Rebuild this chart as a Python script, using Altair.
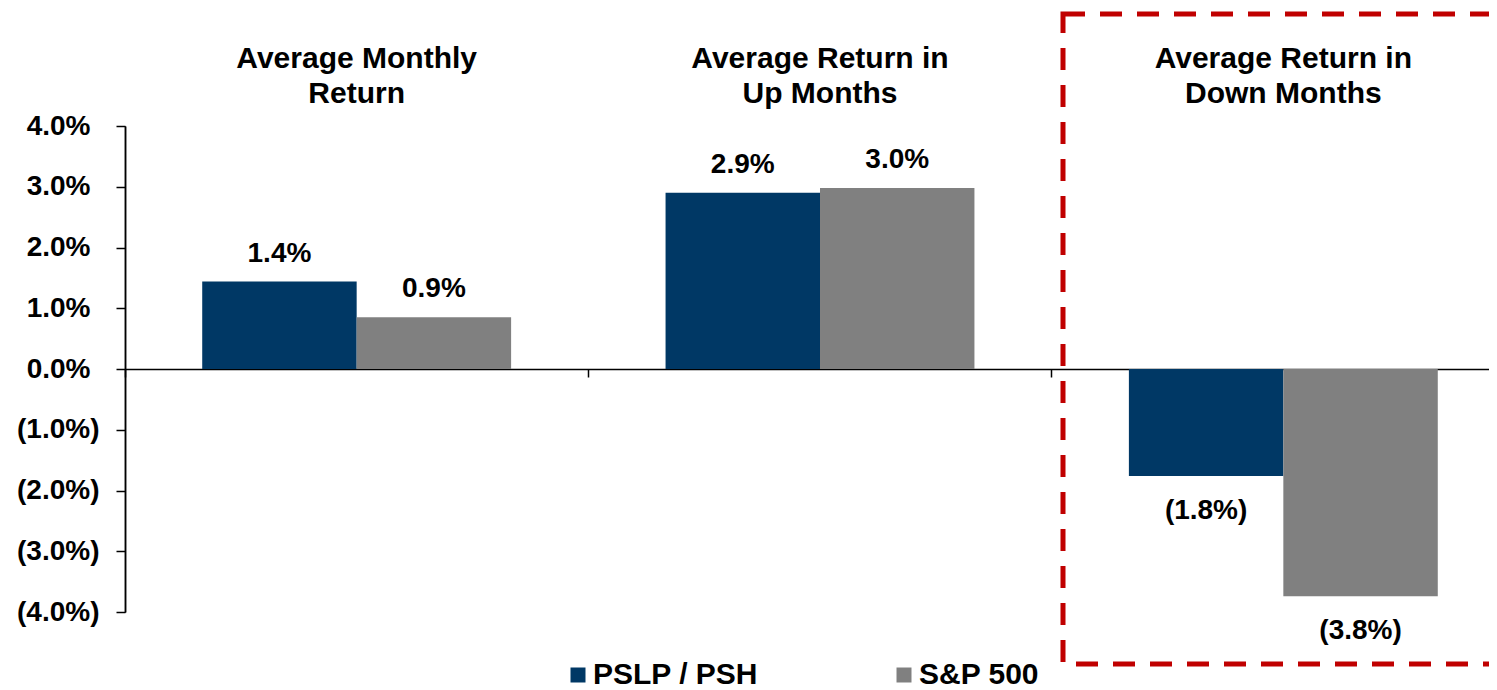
import altair as alt
import pandas as pd

groups = ["Average Monthly Return", "Average Return in Up Months", "Average Return in Down Months"]
group_titles = ["Average Monthly\nReturn", "Average Return in\nUp Months", "Average Return in\nDown Months"]
series = ["PSLP / PSH", "S&P 500"]
pslp_values = [1.44, 2.90, -1.76]
sp_values = [0.85, 2.98, -3.74]
pslp_labels = ["1.4%", "2.9%", "(1.8%)"]
sp_labels = ["0.9%", "3.0%", "(3.8%)"]
neg_ticks = [-4, -3, -2, -1]
pos_ticks = [0, 1, 2, 3, 4]
colors = ["#003865", "#808080"]

rows = []
for i, g in enumerate(groups):
    rows.append(dict(group=g, series=series[0], value=pslp_values[i], label=pslp_labels[i]))
    rows.append(dict(group=g, series=series[1], value=sp_values[i], label=sp_labels[i]))
df = pd.DataFrame(rows)
titles_df = pd.DataFrame({"group": groups, "title": group_titles})
box_df = pd.DataFrame({"k": [0]})

FONT = "Liberation Sans"
W, H = 1364, 486

x_scale = alt.Scale(domain=groups, range=[0, 1390], paddingInner=0, paddingOuter=0)
xo_scale = alt.Scale(domain=series, paddingInner=0, paddingOuter=0.5)
y_scale = alt.Scale(domain=[-4, 4], nice=False, zero=True)

x_axis = alt.Axis(title=None, labels=False, domainColor="black", domainWidth=1.5,
                  tickColor="black", tickSize=8, tickWidth=1.5, bandPosition=0,
                  offset=-243, grid=False)
y_common = dict(title=None, orient="left", labelFont=FONT, labelFontSize=28,
                labelFontWeight="bold", labelColor="black", tickSize=9,
                tickColor="black", tickWidth=1.5, domainColor="black",
                domainWidth=1.5, grid=False)
y_axis_neg = alt.Axis(values=neg_ticks, labelPadding=17,
                      labelExpr="'(' + format(-datum.value, '.1f') + '%)'", **y_common)
y_axis_pos = alt.Axis(values=pos_ticks, labelPadding=26,
                      labelExpr="format(datum.value, '.1f') + '%'", **y_common)

x_enc = alt.X("group:N", scale=x_scale, sort=groups, axis=x_axis)
xo_enc = alt.XOffset("series:N", scale=xo_scale, sort=series)

base = alt.Chart(df)

bars = base.mark_bar().encode(
    x=x_enc,
    xOffset=xo_enc,
    y=alt.Y("value:Q", scale=y_scale, axis=y_axis_neg),
    color=alt.Color("series:N", sort=series,
                    scale=alt.Scale(domain=series, range=colors),
                    legend=alt.Legend(title=None, orient="none", legendX=438, legendY=534,
                                      direction="horizontal", symbolType="square",
                                      symbolSize=225, symbolStrokeWidth=0,
                                      labelFont=FONT, labelFontSize=30, labelFontWeight="bold",
                                      labelColor="black", labelOffset=0, columnPadding=130,
                                      labelLimit=400)),
)

txt_style = dict(font=FONT, fontWeight="bold", color="black", baseline="alphabetic")

pos_text = base.transform_filter("datum.value >= 0").mark_text(dy=-20, fontSize=28, **txt_style).encode(
    x=x_enc, xOffset=xo_enc, y=alt.Y("value:Q", scale=y_scale, axis=y_axis_pos), text="label:N")
neg_text = base.transform_filter("datum.value < 0").mark_text(dy=43, fontSize=28, **txt_style).encode(
    x=x_enc, xOffset=xo_enc, y=alt.Y("value:Q", scale=y_scale, axis=None), text="label:N")

titles = alt.Chart(titles_df).mark_text(lineBreak="\n", lineHeight=35, fontSize=30, **txt_style).encode(
    x=x_enc, y=alt.value(-58), text="title:N")

box = alt.Chart(box_df).mark_rect(fillOpacity=0, stroke="#C00000", strokeWidth=5,
                                  strokeDash=[22, 15]).encode(
    x=alt.value(938), x2=alt.value(1500), y=alt.value(-112), y2=alt.value(538))

chart = alt.layer(bars, pos_text, neg_text, titles, box).resolve_axis(y="independent").properties(
    width=W, height=H,
    autosize=alt.AutoSizeParams(type="none"),
    padding={"left": 117, "top": 118, "right": 0, "bottom": 78},
    background="white",
).configure_view(stroke=None)

chart.save("out.html", embed_options={"renderer": "svg", "actions": False})
